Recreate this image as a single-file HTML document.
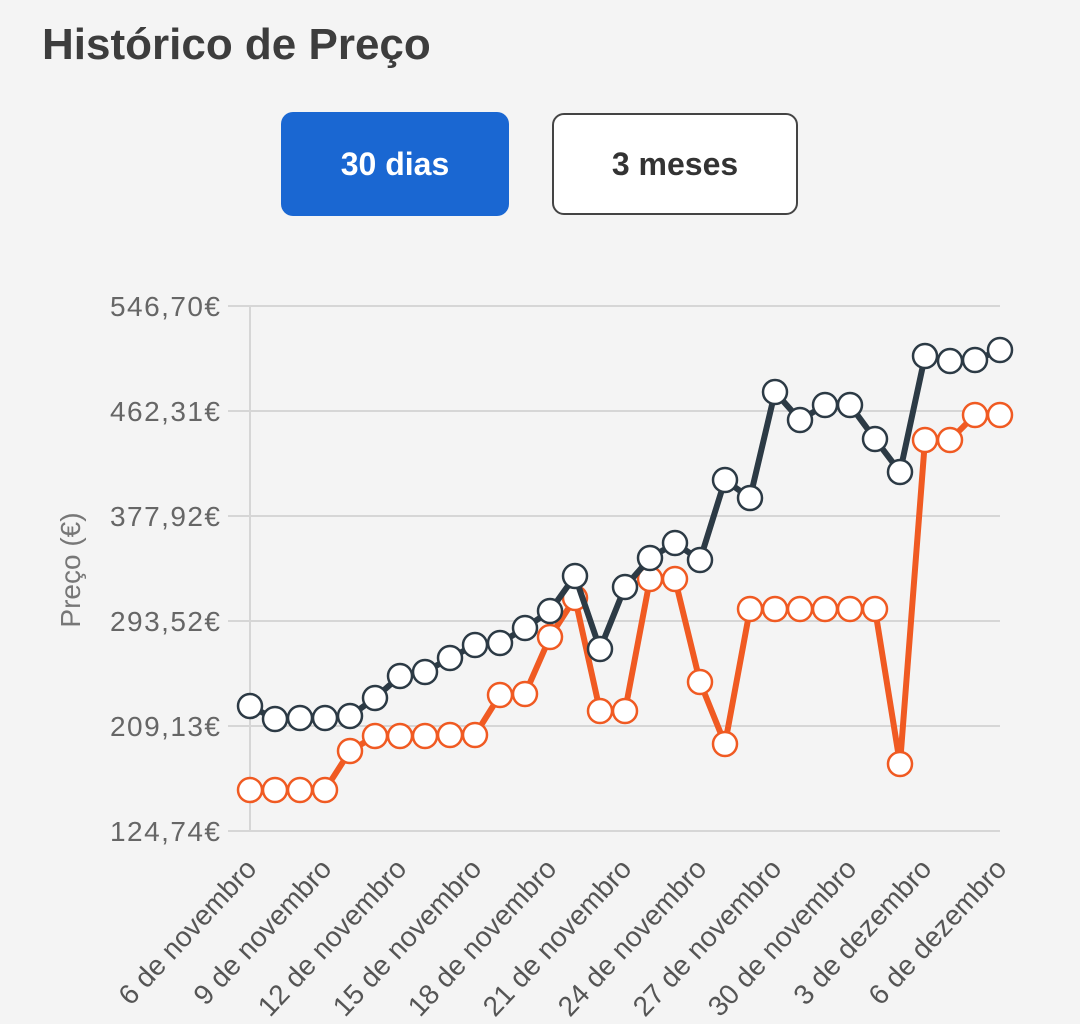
<!DOCTYPE html>
<html><head><meta charset="utf-8"><style>
body{margin:0;width:1080px;height:1024px;background:#f4f4f4;font-family:"Liberation Sans",Roboto,sans-serif;overflow:hidden;position:relative}
h1{position:absolute;left:42px;top:20px;margin:0;font-size:44px;font-weight:bold;color:#3d3d3d}
.btn{position:absolute;box-sizing:border-box;border-radius:12px;font-size:32px;font-weight:bold;display:flex;align-items:center;justify-content:center}
</style></head><body>
<h1>Histórico de Preço</h1>
<div class="btn" style="left:281px;top:112px;width:228px;height:104px;background:#1a67d2;color:#fff">30 dias</div>
<div class="btn" style="left:552px;top:113px;width:246px;height:102px;background:#fff;border:2px solid #444;color:#333">3 meses</div>
<svg id="chart" width="1080" height="1024" style="position:absolute;left:0;top:0"></svg>
<script>
const categories=["6 de novembro","7","8","9 de novembro","10","11","12 de novembro","13","14","15 de novembro","16","17","18 de novembro","19","20","21 de novembro","22","23","24 de novembro","25","26","27 de novembro","28","29","30 de novembro","1","2","3 de dezembro","4","5","6 de dezembro"];
const seriesDark=[225.20,214.75,215.55,215.55,217.16,231.63,249.31,252.52,263.77,274.22,275.83,287.88,301.55,329.68,271.01,320.84,344.14,356.20,342.53,406.83,392.36,477.55,455.05,467.10,467.10,439.78,413.26,506.48,502.46,503.27,511.31];
const seriesOrange=[157.69,157.69,157.69,157.69,189.03,201.09,201.09,201.09,201.89,201.89,234.04,234.84,280.65,312.00,221.18,221.18,327.26,327.26,244.49,194.66,303.15,303.15,303.15,303.15,303.15,303.15,178.59,438.97,438.97,459.07,459.07];
const yTicks=[124.74,209.13,293.52,377.92,462.31,546.70];
const yTickLabels=["124,74€","209,13€","293,52€","377,92€","462,31€","546,70€"];
const labelEvery=3;
const svg=document.getElementById('chart');const NS='http://www.w3.org/2000/svg';
const x0=250,x1=1000,yTop=306,yBot=831,vMin=124.74,vMax=546.70;
function xs(i){return x0+(x1-x0)*i/(categories.length-1);}
function ys(v){return yBot-(v-vMin)/(vMax-vMin)*(yBot-yTop);}
function mk(t,a,p){const e=document.createElementNS(NS,t);for(const k in a)e.setAttribute(k,a[k]);(p||svg).appendChild(e);return e;}
yTicks.forEach((v,i)=>{
 const g=mk('line',{x1:228,x2:1000,y1:ys(v),y2:ys(v),stroke:'#d6d6d6','stroke-width':2});
 
 
 const t=mk('text',{x:220,y:ys(v)+10,'text-anchor':'end','font-size':28,fill:'#666',textLength:110});
 t.textContent=yTickLabels[i];
 
 
});
const ax=mk('line',{x1:250,x2:250,y1:yTop,y2:yBot,stroke:'#d6d6d6','stroke-width':2});


const yt=mk('text',{x:0,y:0,'text-anchor':'middle','font-size':28,fill:'#777',transform:'translate(80,570) rotate(-90)'});
yt.textContent='Preço (€)';


categories.forEach((c,i)=>{
 if(i%labelEvery)return;
 const t=mk('text',{x:0,y:0,'text-anchor':'end','font-size':28,fill:'#555',transform:`translate(${xs(i)+8},870) rotate(-47)`});
 t.textContent=c;
 
 
});
function series(vals,col,name){
 const p=mk('polyline',{points:vals.map((v,i)=>xs(i)+','+ys(v)).join(' '),fill:'none',stroke:col,'stroke-width':6,'stroke-linejoin':'round'});
 
 
 vals.forEach((v,i)=>{
  const c=mk('circle',{cx:xs(i),cy:ys(v),r:12,fill:'#fff',stroke:col,'stroke-width':2.5});
  
  
 });
}
series(seriesOrange,'#f05a22','orange-series');
series(seriesDark,'#2c3a45','dark-series');
</script>
</body></html>
